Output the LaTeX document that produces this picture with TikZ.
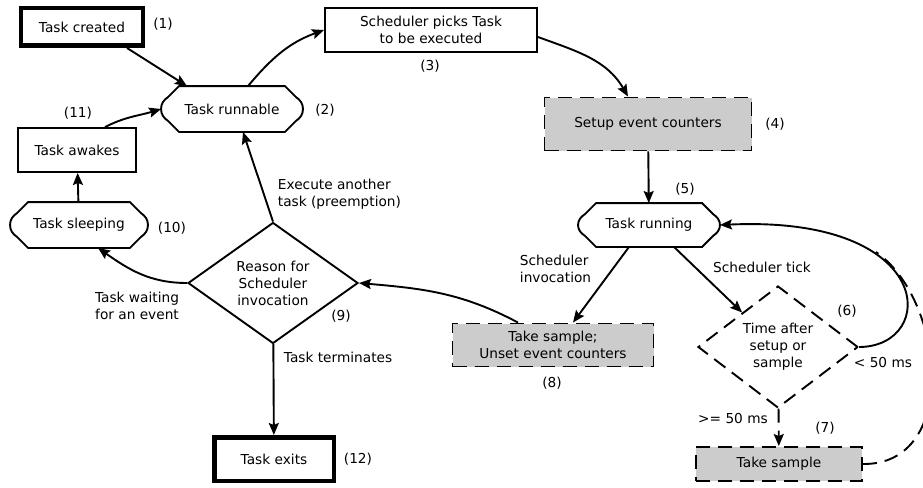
\documentclass[tikz,border=0pt]{standalone}
\usepackage{fontspec}
\setmainfont{DejaVu Sans}
\usetikzlibrary{shapes.geometric,arrows.meta}
\begin{document}
\begin{tikzpicture}[x=1pt, y=-1pt, >={Stealth[length=12pt,width=10pt,inset=2pt]}, line width=1.9pt,
  font=\fontsize{13.7}{17}\selectfont,
  every node/.style={inner sep=0pt, align=center},
  plain/.style={draw, rectangle},
  endbox/.style={draw, rectangle, line width=4.5pt},
  dashline/.style={dash pattern=on 14pt off 8pt},
  probe/.style={draw, rectangle, fill=black!20, dashline},
  choice/.style={draw, diamond, aspect=1.4}]
\useasboundingbox (0,0) rectangle (923,487);

\node[endbox, minimum width=122, minimum height=37.5] (created) at (82,27) {Task created};
\node[minimum width=140, minimum height=44] (runnable) at (232,109) {Task runnable};
\node[plain, minimum width=212, minimum height=44] (picks) at (431,30) {Scheduler picks Task\\to be executed};
\node[probe, minimum width=207, minimum height=53] (setup) at (648,124) {Setup event counters};
\node[minimum width=140, minimum height=42] (running) at (649,225) {Task running};
\node[choice, dashline, minimum width=160, minimum height=122] (tick) at (778,347) {Time after\\setup or\\sample};
\node[probe, minimum width=166, minimum height=34] (sample) at (779,464) {Take sample};
\node[probe, minimum width=201, minimum height=43] (unset) at (553,345) {Take sample;\\Unset event counters};
\node[choice, minimum width=170, minimum height=121] (reason) at (273,283) {Reason for\\Scheduler\\invocation};
\node[minimum width=136, minimum height=44] (sleeping) at (79,225) {Task sleeping};
\node[plain, minimum width=118, minimum height=44] (awakes) at (77,150) {Task awakes};
\node[endbox, minimum width=119.5, minimum height=43.5] (exits) at (274,459) {Task exits};

\foreach \n in {runnable,running,sleeping}
  \draw ([xshift=18pt]\n.north west) -- ([xshift=-18pt]\n.north east) -- ([xshift=-7pt,yshift=-11pt]\n.north east)
    to[out=-35,in=90] (\n.east) to[out=-90,in=35] ([xshift=-7pt,yshift=11pt]\n.south east)
    -- ([xshift=-18pt]\n.south east) -- ([xshift=18pt]\n.south west) -- ([xshift=7pt,yshift=11pt]\n.south west)
    to[out=145,in=-90] (\n.west) to[out=90,in=-145] ([xshift=7pt,yshift=-11pt]\n.north west) -- cycle;

\node (n1) at (163,24) {(1)};
\node (n2) at (325,110) {(2)};
\node (n3) at (430,66) {(3)};
\node (n4) at (775,124) {(4)};
\node (n5) at (685,189) {(5)};
\node (n6) at (847,311) {(6)};
\node (n7) at (825,428) {(7)};
\node (n8) at (552,383) {(8)};
\node (n9) at (341,316) {(9)};
\node (n10) at (172,228) {(10)};
\node (n11) at (78,113) {(11)};
\node (n12) at (358,459) {(12)};

\node[anchor=west, align=left] (preempt) at (277,194) {Execute another\\task (preemption)};
\node (waiting) at (137,306) {Task waiting\\for an event};
\node[anchor=west] (terminates) at (283,357) {Task terminates};
\node[anchor=west, align=left] (invoc) at (519,269) {Scheduler\\invocation};
\node (ticklbl) at (762,267) {Scheduler tick};
\node (less) at (883,363) {< 50 ms};
\node (more) at (733,419) {>= 50 ms};

\draw[->] ([xshift=45pt]created.south) -- ([xshift=-45pt]runnable.north);
\draw[->] ([xshift=16pt]runnable.north) to[out=50,in=200] (picks.west);
\draw[->] ([yshift=-7pt]picks.east) to[out=-20,in=120] ([xshift=-20pt]setup.north);
\draw[->] (setup) -- (running);
\draw[->] ([xshift=25pt]running.south) -- (tick);
\draw[->] ([xshift=-20pt]running.south) -- ([xshift=20pt]unset.north);
\draw[->, dashline] (tick) -- (sample);
\draw[->] (tick.east) .. controls (938,347) and (938,215) .. (running.east);
\coordinate (merge) at (876,252);
\draw[dashline] (sample.east) .. controls (960,465) and (945,300) .. (merge);
\draw[->] ([xshift=-35pt]unset.north) to[out=152,in=-5] (reason.east);
\draw[->] (reason.north) -- ([xshift=11pt]runnable.south);
\draw[->] (reason.west) to[out=180,in=-35] ([xshift=19pt]sleeping.south);
\draw[->] (reason) -- (exits);
\draw[->] (sleeping) -- (awakes);
\draw[->] ([xshift=28pt]awakes.north) to[out=27,in=197] (runnable.west);
\end{tikzpicture}
\end{document}
